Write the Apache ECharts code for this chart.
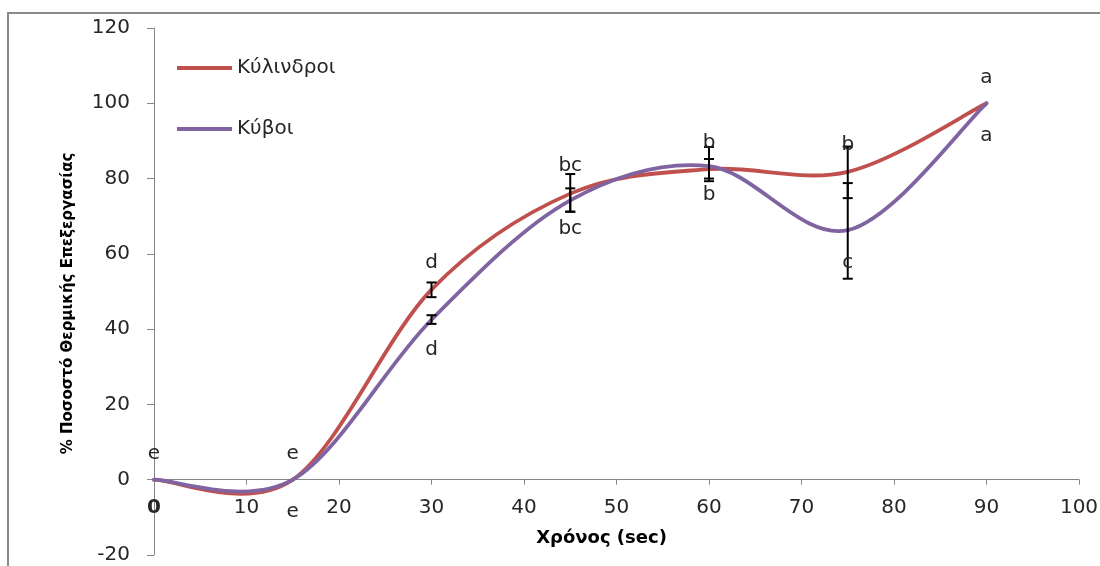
<!DOCTYPE html>
<html>
<head>
<meta charset="utf-8">
<script src="https://cdn.jsdelivr.net/npm/echarts@6/dist/echarts.min.js"></script>
<style>
  html, body { margin: 0; padding: 0; background: #fff; }
  #chart { width: 1100px; height: 566px; }
</style>
</head>
<body>
<div id="chart"></div>
<script>
// Time points (sec)
const timeSec = [0, 15, 30, 45, 60, 75, 90];

// % heat treatment per shape
const cylinders = [0, 0, 50.5, 76.0, 82.5, 81.8, 100];
const cubes     = [0, 0, 42.5, 74.2, 83.3, 66.3, 100];

// Error bar ends (null = no bar)
const cylLow   = [null, null, 48.5, 71.2, 79.3, 74.8, null];
const cylHigh  = [null, null, 52.4, 81.2, 88.4, 88.5, null];
const cubeLow  = [null, null, 41.4, 71.2, 80.0, 53.4, null];
const cubeHigh = [null, null, 43.7, 77.4, 85.2, 78.8, null];

// Significance letters
const letterX    = [0, 15, 15, 30, 30, 45, 45, 60, 60, 75, 75, 90, 90];
const letterY    = [6.8, 6.8, -8.5, 57.5, 34.5, 83.3, 66.7, 89.5, 75.6, 88.9, 57.7, 106.8, 91.3];
const letterText = ['e', 'e', 'e', 'd', 'd', 'bc', 'bc', 'b', 'b', 'b', 'c', 'a', 'a'];

// Axis ticks
const xTicks = { min: 0, max: 100, interval: 10 };
const yTicks = { min: -20, max: 120, interval: 20 };

const seriesNames = ['Κύλινδροι', 'Κύβοι'];
const RED = '#C0504D';
const PURPLE = '#8064A2';
const FONT = 'DejaVu Sans';

// Smoothed curve (cardinal spline, tension 1/6) through all points of the series
function splineRenderer(color) {
  return function (params, api) {
    if (params.dataIndexInside !== 0) return null;
    const n = params.dataInsideLength;
    const pts = [];
    for (let i = 0; i < n; i++) {
      pts.push(api.coord([api.value(0, i), api.value(1, i)]));
    }
    const children = [];
    for (let i = 0; i < n - 1; i++) {
      const p0 = pts[Math.max(i - 1, 0)];
      const p1 = pts[i];
      const p2 = pts[i + 1];
      const p3 = pts[Math.min(i + 2, n - 1)];
      children.push({
        type: 'bezierCurve',
        shape: {
          x1: p1[0], y1: p1[1],
          cpx1: p1[0] + (p2[0] - p0[0]) / 6, cpy1: p1[1] + (p2[1] - p0[1]) / 6,
          cpx2: p2[0] - (p3[0] - p1[0]) / 6, cpy2: p2[1] - (p3[1] - p1[1]) / 6,
          x2: p2[0], y2: p2[1]
        },
        style: { stroke: color, lineWidth: 3.8, fill: null, lineCap: 'round', lineJoin: 'round' }
      });
    }
    return { type: 'group', children: children };
  };
}

function errorBarRenderer(params, api) {
  const x = api.value(0);
  const lo = api.coord([x, api.value(1)]);
  const hi = api.coord([x, api.value(2)]);
  const cap = 5;
  const st = { stroke: '#000', lineWidth: 2 };
  return {
    type: 'group',
    children: [
      { type: 'line', shape: { x1: lo[0], y1: lo[1], x2: hi[0], y2: hi[1] }, style: st },
      { type: 'line', shape: { x1: lo[0] - cap, y1: lo[1], x2: lo[0] + cap, y2: lo[1] }, style: st },
      { type: 'line', shape: { x1: hi[0] - cap, y1: hi[1], x2: hi[0] + cap, y2: hi[1] }, style: st }
    ]
  };
}

function letterRenderer(params, api) {
  const p = api.coord([api.value(0), api.value(1)]);
  return {
    type: 'text',
    x: p[0], y: p[1],
    style: {
      text: letterText[params.dataIndex],
      fill: '#262626',
      font: '20px "' + FONT + '"',
      align: 'center',
      verticalAlign: 'middle'
    }
  };
}

function barData(lows, highs) {
  const out = [];
  timeSec.forEach((t, i) => {
    if (lows[i] != null && highs[i] != null) out.push([t, lows[i], highs[i]]);
  });
  return out;
}

const chart = echarts.init(document.getElementById('chart'), null, { renderer: 'canvas' });

chart.setOption({
  backgroundColor: '#fff',
  animation: false,
  color: [RED, PURPLE],
  textStyle: { fontFamily: FONT },
  graphic: [{
    type: 'rect',
    shape: { x: 8, y: 13, width: 1200, height: 700 },
    style: { fill: null, stroke: '#8a8a8a', lineWidth: 2 },
    silent: true,
    z: -10
  }],
  legend: {
    orient: 'vertical',
    left: 177,
    top: 58,
    padding: 0,
    itemGap: 41,
    itemWidth: 55,
    itemHeight: 4,
    data: seriesNames.map(n => ({ name: n, icon: 'rect' })),
    textStyle: { fontFamily: FONT, fontSize: 20, color: '#262626' }
  },
  grid: { left: 154, right: 21, top: 28, bottom: 11, containLabel: false, outerBoundsMode: 'none' },
  xAxis: {
    type: 'value',
    min: xTicks.min, max: xTicks.max, interval: xTicks.interval,
    name: 'Χρόνος (sec)',
    nameLocation: 'middle',
    nameGap: -26,
    nameTextStyle: { fontFamily: FONT, fontSize: 18, fontWeight: 'bold', color: '#000', padding: [0, 30, 0, 0] },
    axisLine: { show: true, onZero: true, lineStyle: { color: '#868686', width: 1 } },
    axisTick: { show: true, inside: false, length: 5, lineStyle: { color: '#868686' } },
    axisLabel: {
      margin: -57,
      fontFamily: FONT, fontSize: 20, color: '#262626',
      showMinLabel: true, showMaxLabel: true,
      formatter: v => (v === 0 ? '{z|0}' : String(v)),
      rich: { z: { fontFamily: FONT, fontSize: 20, fontWeight: 'bold', color: '#262626' } }
    },
    splitLine: { show: false }
  },
  yAxis: {
    type: 'value',
    min: yTicks.min, max: yTicks.max, interval: yTicks.interval,
    name: '% Ποσοστό Θερμικής Επεξεργασίας',
    nameLocation: 'middle',
    nameGap: 78,
    nameRotate: 90,
    nameTextStyle: { fontFamily: FONT, fontSize: 15, fontWeight: 'bold', color: '#000', padding: [0, 24, 0, 0] },
    axisLine: { show: true, onZero: false, lineStyle: { color: '#868686', width: 1 } },
    axisTick: { show: true, inside: false, length: 7, lineStyle: { color: '#868686' } },
    axisLabel: { margin: 24, fontFamily: FONT, fontSize: 20, color: '#262626', showMinLabel: true, showMaxLabel: true },
    splitLine: { show: false }
  },
  series: [
    {
      name: seriesNames[0],
      type: 'custom',
      renderItem: splineRenderer(RED),
      itemStyle: { color: RED },
      data: timeSec.map((t, i) => [t, cylinders[i]]),
      encode: { x: 0, y: 1 },
      clip: false,
      z: 2
    },
    {
      name: seriesNames[1],
      type: 'custom',
      renderItem: splineRenderer(PURPLE),
      itemStyle: { color: PURPLE },
      data: timeSec.map((t, i) => [t, cubes[i]]),
      encode: { x: 0, y: 1 },
      clip: false,
      z: 3
    },
    {
      name: 'cylErr',
      type: 'custom',
      renderItem: errorBarRenderer,
      data: barData(cylLow, cylHigh),
      encode: { x: 0, y: [1, 2] },
      z: 5
    },
    {
      name: 'cubeErr',
      type: 'custom',
      renderItem: errorBarRenderer,
      data: barData(cubeLow, cubeHigh),
      encode: { x: 0, y: [1, 2] },
      z: 5
    },
    {
      name: 'letters',
      type: 'custom',
      renderItem: letterRenderer,
      data: letterX.map((x, i) => [x, letterY[i]]),
      encode: { x: 0, y: 1 },
      z: 6
    }
  ]
});
</script>
</body>
</html>
